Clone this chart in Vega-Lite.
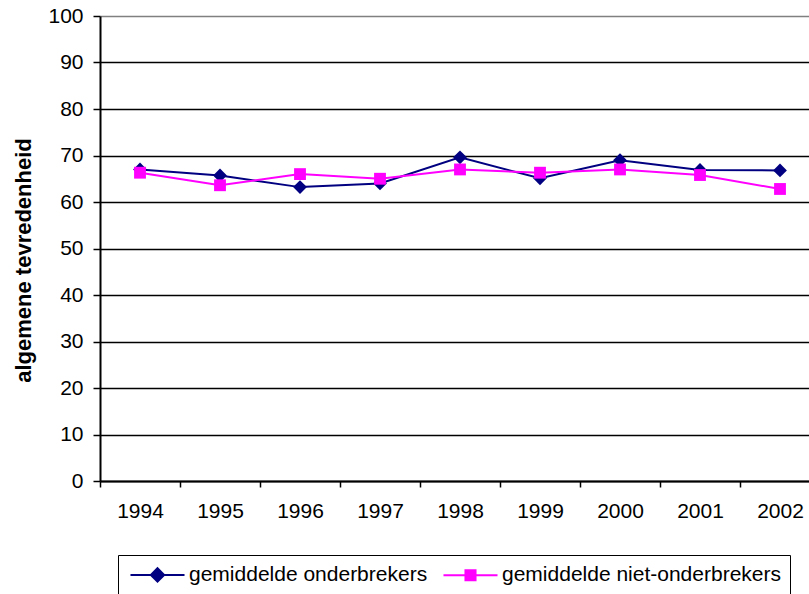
{
  "$schema": "https://vega.github.io/schema/vega-lite/v6.json",
  "width": 709,
  "height": 465,
  "autosize": "none",
  "padding": {"left": 100, "top": 16, "right": 0, "bottom": 113},
  "background": "white",
  "config": {
    "view": {"stroke": null},
    "font": "Liberation Sans"
  },
  "data": {
    "values": [
      {"jaar": "1994", "reeks": "gemiddelde onderbrekers", "waarde": 67.0},
      {"jaar": "1995", "reeks": "gemiddelde onderbrekers", "waarde": 65.7},
      {"jaar": "1996", "reeks": "gemiddelde onderbrekers", "waarde": 63.2},
      {"jaar": "1997", "reeks": "gemiddelde onderbrekers", "waarde": 64.0},
      {"jaar": "1998", "reeks": "gemiddelde onderbrekers", "waarde": 69.6},
      {"jaar": "1999", "reeks": "gemiddelde onderbrekers", "waarde": 65.1},
      {"jaar": "2000", "reeks": "gemiddelde onderbrekers", "waarde": 69.0},
      {"jaar": "2001", "reeks": "gemiddelde onderbrekers", "waarde": 66.9},
      {"jaar": "2002", "reeks": "gemiddelde onderbrekers", "waarde": 66.8},
      {"jaar": "1994", "reeks": "gemiddelde niet-onderbrekers", "waarde": 66.3},
      {"jaar": "1995", "reeks": "gemiddelde niet-onderbrekers", "waarde": 63.6},
      {"jaar": "1996", "reeks": "gemiddelde niet-onderbrekers", "waarde": 66.0},
      {"jaar": "1997", "reeks": "gemiddelde niet-onderbrekers", "waarde": 65.0},
      {"jaar": "1998", "reeks": "gemiddelde niet-onderbrekers", "waarde": 67.0},
      {"jaar": "1999", "reeks": "gemiddelde niet-onderbrekers", "waarde": 66.3},
      {"jaar": "2000", "reeks": "gemiddelde niet-onderbrekers", "waarde": 67.0},
      {"jaar": "2001", "reeks": "gemiddelde niet-onderbrekers", "waarde": 65.8},
      {"jaar": "2002", "reeks": "gemiddelde niet-onderbrekers", "waarde": 62.8}
    ]
  },
  "encoding": {
    "x": {
      "field": "jaar",
      "type": "ordinal",
      "scale": {"type": "band", "range": [0, 720], "paddingInner": 0, "paddingOuter": 0},
      "axis": {
        "title": null,
        "labelAngle": 0,
        "labelFontSize": 21,
        "labelColor": "black",
        "labelPadding": 13,
        "labelBaseline": "top",
        "tickBand": "extent",
        "tickSize": 6,
        "tickColor": "black",
        "tickWidth": 1.5,
        "domainColor": "black",
        "domainWidth": 2,
        "grid": false
      }
    },
    "y": {
      "field": "waarde",
      "type": "quantitative",
      "scale": {"domain": [0, 100], "nice": false, "zero": true},
      "axis": {
        "title": "algemene tevredenheid",
        "titleFontSize": 22,
        "titleFontWeight": "bold",
        "titleColor": "black",
        "titleAngle": -90,
        "titleX": -70,
        "titleY": 244,
        "titleAlign": "center",
        "titleBaseline": "alphabetic",
        "values": [0, 10, 20, 30, 40, 50, 60, 70, 80, 90, 100],
        "labelFontSize": 21,
        "labelColor": "black",
        "labelPadding": 10,
        "tickSize": 7,
        "tickColor": "black",
        "tickWidth": 1.5,
        "domainColor": "black",
        "domainWidth": 2,
        "grid": true,
        "gridColor": {"condition": {"test": "datum.value === 100", "value": "#808080"}, "value": "black"},
        "gridWidth": 1.5,
        "gridOpacity": 1
      }
    },
    "color": {
      "field": "reeks",
      "type": "nominal",
      "scale": {
        "domain": ["gemiddelde onderbrekers", "gemiddelde niet-onderbrekers"],
        "range": ["#000080", "#FF00FF"]
      },
      "legend": {
        "title": null,
        "orient": "none",
        "direction": "horizontal",
        "legendX": 18,
        "legendY": 539,
        "strokeColor": "black",
        "fillColor": "white",
        "padding": 9,
        "labelFontSize": 21,
        "labelColor": "black",
        "labelOffset": 21,
        "labelLimit": 400,
        "symbolSize": 196,
        "symbolOffset": 20,
        "columnPadding": 11,
        "symbolStrokeWidth": 2,
        "symbolOpacity": 1,
        "symbolFillColor": "transparent"
      }
    }
  },
  "layer": [
    {
      "mark": {"type": "point", "filled": false, "opacity": 0, "size": 196, "strokeWidth": 2},
      "encoding": {
        "shape": {
          "field": "reeks",
          "type": "nominal",
          "scale": {
            "domain": ["gemiddelde onderbrekers", "gemiddelde niet-onderbrekers"],
            "range": [
              "M-3.86,0H3.86M0,-0.95L0.95,0L0,0.95L-0.95,0ZM0,-0.75L0.75,0L0,0.75L-0.75,0ZM0,-0.55L0.55,0L0,0.55L-0.55,0ZM0,-0.35L0.35,0L0,0.35L-0.35,0ZM0,-0.15L0.15,0L0,0.15L-0.15,0Z",
              "M-3.86,0H3.86M-0.72,-0.72H0.72V0.72H-0.72ZM-0.54,-0.54H0.54V0.54H-0.54ZM-0.36,-0.36H0.36V0.36H-0.36ZM-0.18,-0.18H0.18V0.18H-0.18Z"
            ]
          },
          "legend": null
        }
      }
    },
    {
      "mark": {"type": "line", "strokeWidth": 2}
    },
    {
      "transform": [{"filter": "datum.reeks === 'gemiddelde onderbrekers'"}],
      "mark": {"type": "point", "shape": "diamond", "filled": true, "opacity": 1, "size": 190}
    },
    {
      "transform": [{"filter": "datum.reeks === 'gemiddelde niet-onderbrekers'"}],
      "mark": {"type": "point", "shape": "square", "filled": true, "opacity": 1, "size": 140}
    }
  ]
}
